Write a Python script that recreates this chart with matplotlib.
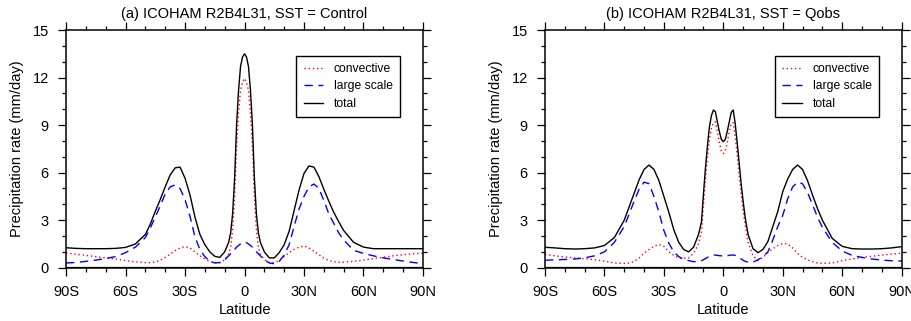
import matplotlib
matplotlib.use('Agg')
import matplotlib.pyplot as plt
from matplotlib.ticker import MultipleLocator

plt.rcParams['font.family'] = ['Liberation Sans', 'DejaVu Sans']

# latitude grids (negative = south)
lat_a = [-90, -85, -80, -75, -70, -65, -60, -55, -50,
         -47.5, -45, -42.5, -40, -37.5, -35, -32.5, -30, -27.5, -25, -22.5, -20, -17.5, -15, -12.5, -10,
         -8, -7, -6, -5, -4, -3, -2, -1, 0,
         1, 2, 3, 4, 5, 6, 7, 8,
         10, 12.5, 15, 17.5, 20, 22.5, 25, 27.5, 30, 32.5, 35, 37.5, 40, 42.5, 45, 47.5, 50,
         55, 60, 65, 70, 75, 80, 85, 90]

conv_a = [0.92, 0.85, 0.78, 0.70, 0.62, 0.55, 0.45, 0.37, 0.32,
          0.32, 0.36, 0.48, 0.65, 0.85, 1.08, 1.25, 1.33, 1.25, 1.00, 0.75, 0.55, 0.40, 0.32, 0.30, 0.50,
          0.85, 1.3, 2.4, 4.45, 7.7, 9.8, 11.2, 11.7, 11.95,
          11.7, 11.2, 9.8, 7.7, 4.45, 2.4, 1.3, 0.85,
          0.50, 0.32, 0.32, 0.45, 0.70, 0.95, 1.15, 1.30, 1.37, 1.25, 1.05, 0.82, 0.60, 0.45, 0.38, 0.35, 0.35,
          0.40, 0.48, 0.58, 0.66, 0.75, 0.82, 0.88, 0.92]

ls_a = [0.30, 0.33, 0.40, 0.48, 0.58, 0.70, 0.95, 1.30, 1.90,
        2.50, 3.20, 3.90, 4.65, 5.10, 5.22, 5.00, 4.30, 3.25, 1.95, 1.15, 0.70, 0.40, 0.30, 0.33, 0.50,
        0.75, 0.88, 1.00, 1.15, 1.30, 1.40, 1.50, 1.58, 1.62,
        1.58, 1.50, 1.40, 1.30, 1.15, 1.00, 0.88, 0.75,
        0.50, 0.30, 0.25, 0.40, 0.80, 1.45, 2.60, 3.70, 4.50, 5.10, 5.28, 5.00, 4.25, 3.40, 2.80, 2.20, 1.75,
        1.10, 0.90, 0.75, 0.62, 0.52, 0.42, 0.33, 0.27]

tot_a = [1.26, 1.22, 1.20, 1.20, 1.20, 1.22, 1.28, 1.50, 2.10,
         2.75, 3.55, 4.30, 5.10, 5.85, 6.30, 6.35, 5.65, 4.60, 3.20, 2.10, 1.45, 1.00, 0.72, 0.65, 1.00,
         1.6, 2.2, 3.4, 5.6, 9.0, 11.2, 12.7, 13.3, 13.5,
         13.3, 12.7, 11.2, 9.0, 5.6, 3.4, 2.2, 1.6,
         1.00, 0.62, 0.62, 0.95, 1.45, 2.30, 3.60, 4.90, 5.95, 6.42, 6.35, 5.75, 4.95, 4.20, 3.50, 2.90, 2.35,
         1.60, 1.30, 1.20, 1.20, 1.20, 1.20, 1.20, 1.20]

lat_b = [-90, -85, -80, -75, -70, -65, -60, -55, -50,
         -47.5, -45, -42.5, -40, -37.5, -35, -32.5, -30, -27.5, -25, -22.5, -20, -17.5, -15, -12.5,
         -11, -10, -9, -8, -7, -6, -5, -4, -3, -2, -1, 0,
         1, 2, 3, 4, 5, 6, 7, 8, 9, 10, 11,
         12.5, 15, 17.5, 20, 22.5, 25, 27.5, 30, 32.5, 35, 37.5, 40, 42.5, 45, 47.5, 50,
         55, 60, 65, 70, 75, 80, 85, 90]

conv_b = [0.84, 0.75, 0.68, 0.62, 0.57, 0.50, 0.42, 0.30, 0.27,
          0.30, 0.40, 0.60, 0.92, 1.15, 1.35, 1.47, 1.35, 1.00, 0.78, 0.62, 0.60, 0.62, 0.90, 1.50,
          2.3, 4.0, 5.6, 7.0, 8.1, 8.8, 9.15, 9.2, 8.6, 7.9, 7.35, 7.2,
          7.35, 7.9, 8.6, 9.1, 9.15, 8.3, 7.1, 5.9, 4.7, 3.6, 2.7,
          1.60, 0.75, 0.45, 0.65, 0.95, 1.20, 1.40, 1.52, 1.50, 1.25, 0.90, 0.65, 0.50, 0.38, 0.30, 0.27,
          0.30, 0.45, 0.55, 0.65, 0.72, 0.80, 0.86, 0.91]

ls_b = [0.47, 0.50, 0.52, 0.55, 0.62, 0.75, 1.00, 1.60, 2.60,
        3.40, 4.20, 4.95, 5.40, 5.30, 4.50, 3.50, 2.35, 1.55, 1.00, 0.70, 0.52, 0.45, 0.38, 0.40,
        0.45, 0.50, 0.58, 0.65, 0.72, 0.77, 0.80, 0.80, 0.78, 0.76, 0.75, 0.75,
        0.75, 0.76, 0.78, 0.80, 0.80, 0.78, 0.72, 0.65, 0.55, 0.47, 0.40,
        0.36, 0.35, 0.50, 0.70, 1.00, 1.75, 2.60, 3.30, 4.35, 5.10, 5.40, 5.30, 4.75, 4.00, 3.20, 2.55,
        1.60, 1.05, 0.78, 0.65, 0.55, 0.48, 0.44, 0.42]

tot_b = [1.29, 1.25, 1.20, 1.18, 1.20, 1.25, 1.40, 1.90, 3.00,
         3.85, 4.70, 5.55, 6.20, 6.48, 6.20, 5.50, 4.50, 3.50, 2.40, 1.60, 1.15, 1.00, 1.30, 2.10,
         2.9, 4.7, 6.3, 7.7, 8.9, 9.6, 9.95, 9.85, 9.2, 8.6, 8.1, 7.95,
         8.1, 8.6, 9.2, 9.8, 9.95, 9.1, 7.9, 6.6, 5.3, 4.2, 3.2,
         2.10, 1.20, 0.95, 1.15, 1.65, 2.60, 3.55, 4.80, 5.60, 6.20, 6.48, 6.20, 5.50, 4.60, 3.75, 3.00,
         1.85, 1.35, 1.20, 1.18, 1.18, 1.20, 1.25, 1.33]

titles = ['(a) ICOHAM R2B4L31, SST = Control', '(b) ICOHAM R2B4L31, SST = Qobs']
xtick_vals = [-90, -60, -30, 0, 30, 60, 90]
xtick_labels = ['90S', '60S', '30S', '0', '30N', '60N', '90N']


def panel(ax, lat, conv, ls, tot, title):
    ax.plot(lat, conv, color='red', linestyle=(0, (1, 2)), lw=1.0, label='convective')
    ax.plot(lat, ls, color='blue', linestyle=(0, (6, 4)), lw=1.0, label='large scale')
    ax.plot(lat, tot, color='black', linestyle='-', lw=1.0, label='total')
    ax.set_xlim(-90, 90)
    ax.set_ylim(0, 15)
    ax.set_xticks(xtick_vals)
    ax.set_xticklabels(xtick_labels)
    ax.set_yticks(range(0, 16, 3))
    ax.xaxis.set_minor_locator(MultipleLocator(10))
    ax.yaxis.set_minor_locator(MultipleLocator(1))
    ax.tick_params(which='both', direction='out', top=True, right=True, labelsize=10.5, width=0.9)
    ax.tick_params(which='major', length=5.5, pad=7)
    ax.tick_params(which='minor', length=3)
    for s in ax.spines.values():
        s.set_linewidth(1.1)
    ax.axhline(0, color='black', lw=1.6, zorder=3)
    ax.set_xlabel('Latitude', fontsize=10.5, labelpad=3)
    ax.set_ylabel('Precipitation rate (mm/day)', fontsize=10.5, labelpad=6)
    ax.set_title(title, fontsize=10.5, pad=9)
    leg = ax.legend(loc='upper right', bbox_to_anchor=(0.936, 0.892), fontsize=8.7,
                    frameon=True, fancybox=False, framealpha=1, edgecolor='black',
                    handlelength=1.6, handletextpad=0.9, borderpad=0.6, labelspacing=0.45,
                    borderaxespad=0)
    leg.get_frame().set_linewidth(1.0)


fig = plt.figure(figsize=(9.12, 3.21), dpi=100)
ax1 = fig.add_axes([0.0724, 0.166, 0.3914, 0.7405])
ax2 = fig.add_axes([0.5976, 0.166, 0.391, 0.7405])
panel(ax1, lat_a, conv_a, ls_a, tot_a, titles[0])
panel(ax2, lat_b, conv_b, ls_b, tot_b, titles[1])

fig.savefig('out.png', dpi=100)
